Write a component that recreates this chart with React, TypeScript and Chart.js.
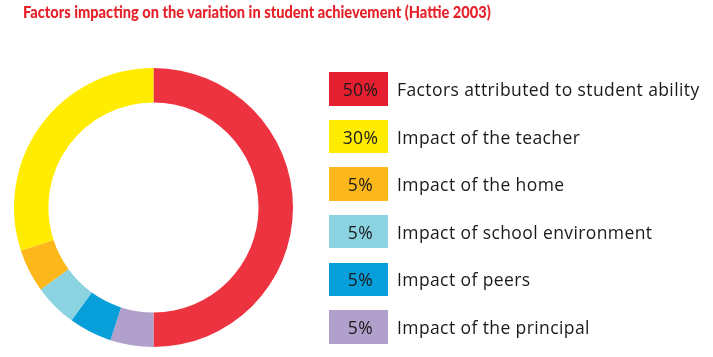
import React, { useEffect, useRef } from "react";
import { Chart, registerables } from "chart.js";

Chart.register(...registerables);

const TITLE = "Factors impacting on the variation in student achievement (Hattie 2003)";
// legend order
const categories = [
  "Factors attributed to student ability",
  "Impact of the teacher",
  "Impact of the home",
  "Impact of school environment",
  "Impact of peers",
  "Impact of the principal",
];
const values = [50, 30, 5, 5, 5, 5];
const percentLabels = ["50%", "30%", "5%", "5%", "5%", "5%"];
const ringColors = ["#EE3340", "#FFEC00", "#FCB71A", "#8BD3E1", "#079FDA", "#B1A0CC"];
const boxColors = ["#E41F2F", "#FFEC00", "#FCB71A", "#8BD3E1", "#079FDA", "#B1A0CC"];
// clockwise order around the ring starting at 12 o'clock
const ringOrder = [0, 5, 4, 3, 2, 1];

export default function App() {
  const ref = useRef<HTMLCanvasElement | null>(null);

  useEffect(() => {
    if (!ref.current) return;
    const chart = new Chart(ref.current, {
      type: "doughnut",
      data: {
        labels: ringOrder.map((i) => categories[i]),
        datasets: [
          {
            data: ringOrder.map((i) => values[i]),
            backgroundColor: ringOrder.map((i) => ringColors[i]),
            borderWidth: 0,
          },
        ],
      },
      options: {
        responsive: false,
        animation: false,
        cutout: "75.3%",
        layout: { padding: { left: 14, right: 420, top: 68, bottom: 10 } },
        plugins: {
          legend: { display: false },
          title: { display: false },
          tooltip: { enabled: false },
        },
      },
    });
    return () => chart.destroy();
  }, []);

  return (
    <div
      style={{
        position: "fixed",
        left: 0,
        top: 0,
        width: 713,
        height: 357,
        background: "#fff",
        fontFamily: "'Open Sans', Lato, sans-serif",
      }}
    >
      <canvas ref={ref} width={713} height={357} style={{ position: "absolute", left: 0, top: 0 }} />
      <div
        style={{
          position: "absolute",
          left: 23,
          top: 1,
          fontFamily: "Lato, sans-serif",
          fontSize: 17.6,
          lineHeight: "22px",
          fontWeight: 900,
          color: "#E62129",
          whiteSpace: "nowrap",
          transform: "scaleX(0.83)",
          transformOrigin: "0 0",
        }}
      >
        {TITLE}
      </div>
      {categories.map((c, i) => (
        <div
          key={c}
          style={{
            position: "absolute",
            left: 329,
            top: 72.3 + i * 47.55,
            height: 33.5,
            display: "flex",
            alignItems: "center",
            whiteSpace: "nowrap",
            fontSize: 17.5,
            letterSpacing: 0.4,
            color: "#1a1a1a",
          }}
        >
          <div
            style={{
              width: 59,
              height: 33.5,
              background: boxColors[i],
              display: "flex",
              alignItems: "center",
              justifyContent: "center",
              paddingLeft: 4,
              boxSizing: "border-box",
            }}
          >
            {percentLabels[i]}
          </div>
          <div style={{ marginLeft: 9 }}>{c}</div>
        </div>
      ))}
    </div>
  );
}
